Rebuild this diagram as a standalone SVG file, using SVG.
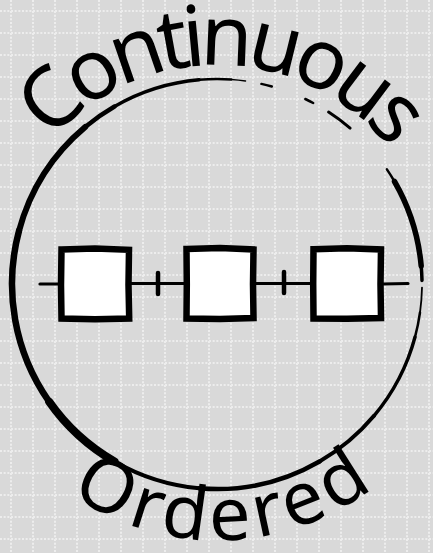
<svg xmlns="http://www.w3.org/2000/svg" xmlns:xlink="http://www.w3.org/1999/xlink" width="433" height="553" viewBox="0 0 433 553">
  <defs>
    <pattern id="grid" patternUnits="userSpaceOnUse" x="0" y="0" width="22" height="22">
      <line x1="11" y1="0" x2="11" y2="22" class="gl"/>
      <line x1="0" y1="11" x2="22" y2="11" class="gl"/>
    </pattern>
    <path id="arcTop" d="M51.0,140.7 A220,220 0 0 1 390.4,149.5"/>
    <path id="arcBot" d="M70.5,494.0 A256,256 0 0 0 378.1,483.9"/>
  </defs>
  <style>
    .gl { stroke: #ededed; stroke-width: 2; stroke-dasharray: 2 1.667; fill: none; }
    .brush { fill: none; stroke: #000; stroke-linecap: round; stroke-linejoin: round; }
    .box { fill: #fff; stroke: #000; stroke-width: 6.5; stroke-linejoin: miter; }
    .conn { fill: none; stroke: #000; stroke-width: 3.2; stroke-linecap: round; }
    .tick { fill: none; stroke: #000; stroke-width: 4.5; stroke-linecap: round; }
    .label { font-family: "Noto Sans", "Liberation Sans", sans-serif; font-weight: 400; fill: #000; }
  </style>
  <rect width="433" height="553" fill="#d9d9d9"/>
  <rect width="433" height="553" fill="url(#grid)"/>

  <g id="circle">
    <path class="brush" stroke-width="1.5" d="M245.5,81 A205,205 0 0 0 231.3,79.5"/>
    <path class="brush" stroke-width="2.5" d="M231.3,79.5 A205,205 0 0 0 199.1,79.8"/>
    <path class="brush" stroke-width="3.5" d="M199.1,79.8 A205,205 0 0 0 114.5,106.5"/>
    <path class="brush" stroke-width="4.5" d="M114.5,106.5 A205,205 0 0 0 85.2,127.0"/>
    <path class="brush" stroke-width="6" d="M85.2,127.0 A205,205 0 0 0 19.0,230.9"/>
    <path class="brush" stroke-width="6.5" d="M19.0,230.9 A205,205 0 0 0 49.1,401.6"/>
    <path class="brush" stroke-width="8" d="M49.1,401.6 A205,205 0 0 0 114.5,461.5"/>
    <path class="brush" stroke-width="4" d="M114.5,461.5 A205,205 0 0 0 199.1,488.2"/>
    <path class="brush" stroke-width="4.5" d="M199.1,488.2 A205,205 0 0 0 319.5,461.5"/>
    <path class="brush" stroke-width="4" d="M319.5,461.5 A205,205 0 0 0 374.0,415.8"/>
    <path class="brush" stroke-width="3.5" d="M374.0,415.8 A205,205 0 0 0 415.0,337.1"/>
    <path class="brush" stroke-width="2.5" d="M415.0,337.1 A205,205 0 0 0 420.0,312.5"/>
    <path class="brush" stroke-width="1.8" d="M420.0,312.5 A205,205 0 0 0 422.0,287.6"/>
    <path class="brush" stroke-width="3.5" d="M422.0,280.4 A205,205 0 0 0 421.2,266.1"/>
    <path class="brush" stroke-width="5.5" d="M421.2,266.1 A205,205 0 0 0 394.5,181.5"/>
    <path class="brush" stroke-width="2.5" d="M394.5,181.5 A205,205 0 0 0 386.9,169.4"/>
    <path class="brush" stroke-width="2.5" d="M271.8,86.5 A205,205 0 0 0 261.4,83.9"/>
    <path class="brush" stroke-width="2.5" d="M313.2,103.0 A205,205 0 0 0 305.3,99.0"/>
    <path class="brush" stroke-width="3" d="M350.1,128.1 A205,205 0 0 0 328.6,112.1"/>
  </g>

  <g id="connectors">
    <path class="conn" d="M40,284 L60,284"/>
    <path class="conn" d="M130,283.5 L185,283.5"/>
    <path class="conn" d="M255,283.5 L312,283.5"/>
    <path class="conn" d="M382,284 L408,283.5"/>
    <path class="tick" d="M158,273 L158,294"/>
    <path class="tick" d="M284,272 L284,293"/>
  </g>

  <g id="node-1">
    <path class="box" d="M61.5,249.5 L95,248.5 L129,249.8 L128.5,285 L129.2,318.5 L95,319.2 L61.5,318.5 L61,285 Z"/>
  </g>
  <g id="node-2">
    <path class="box" d="M186.5,249 L220,248 L253.5,249.5 L253,284 L253.5,318 L220,319 L186.5,318.5 L186.8,284 Z"/>
  </g>
  <g id="node-3">
    <path class="box" d="M313.5,249.2 L347,248.2 L381,249.5 L380.5,284 L381,318 L347,318.8 L313.5,318.5 L313.2,284 Z"/>
  </g>

  <g id="labels">
    <text class="label" font-size="84"><textPath href="#arcTop" xlink:href="#arcTop" textLength="388" lengthAdjust="spacing">Continuous</textPath></text>
    <text class="label" font-size="74"><textPath href="#arcBot" xlink:href="#arcBot" textLength="324" lengthAdjust="spacing">Ordered</textPath></text>
  </g>
</svg>
